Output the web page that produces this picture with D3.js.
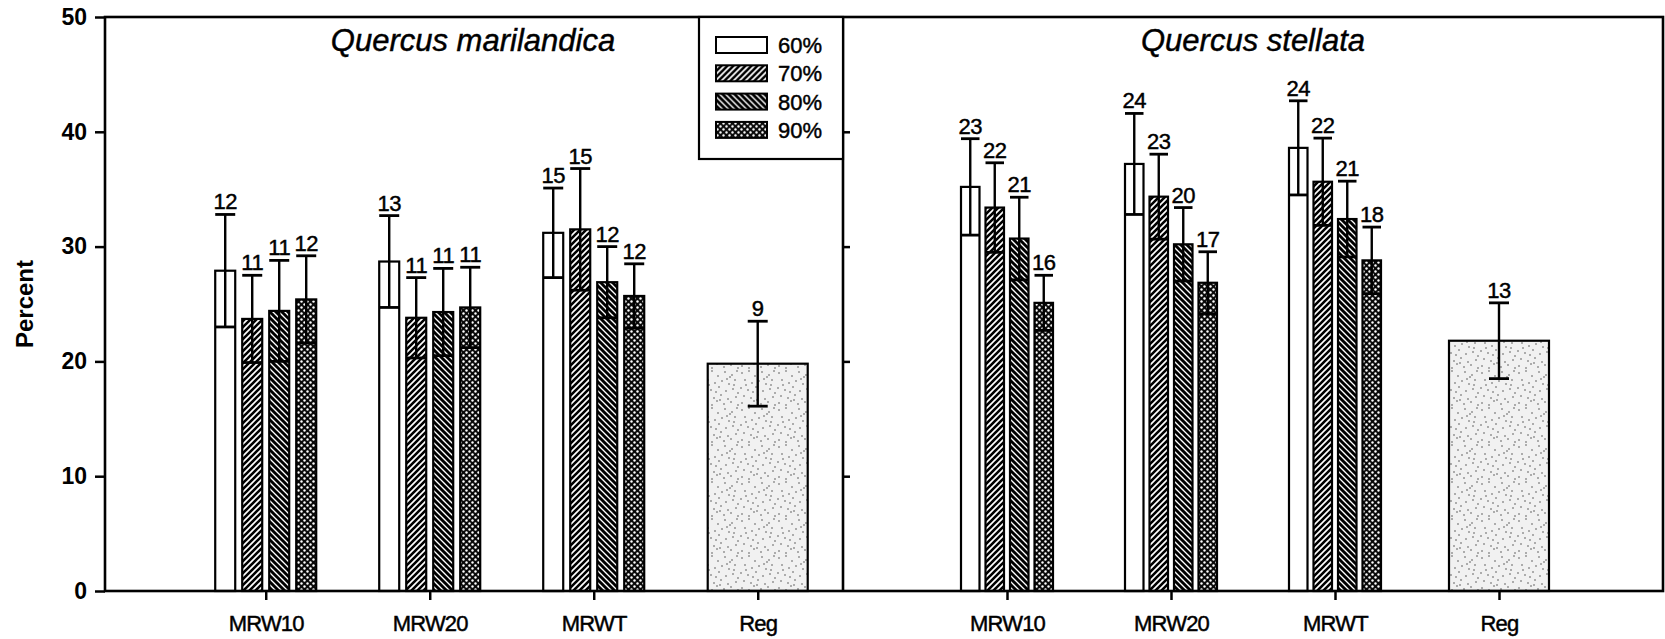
<!DOCTYPE html>
<html>
<head>
<meta charset="utf-8">
<script src="https://cdn.jsdelivr.net/npm/d3@7"></script>
<style>
  body { margin: 0; background: #fff; }
  svg { display: block; font-family: "Liberation Sans", Arial, sans-serif; }
  .ink { stroke: #000; stroke-width: 0.45px; }
</style>
</head>
<body>
<svg id="chart" width="1665" height="639"></svg>
<script>
// ---- data ---------------------------------------------------------------
const groups = ["MRW10", "MRW20", "MRWT"];
const regLabel = "Reg";
const levels = ["60%", "70%", "80%", "90%"];
const yTicks = [0, 10, 20, 30, 40, 50];
const panelTitles = ["Quercus marilandica", "Quercus stellata"];

// rows = groups, columns = levels (60, 70, 80, 90 %)
const marilandicaMean = [[27.9, 23.7, 24.4, 25.4], [28.7, 23.8, 24.3, 24.7], [31.2, 31.5, 26.9, 25.7]];
const marilandicaErr  = [[4.9, 3.8, 4.4, 3.8],     [4.0, 3.5, 3.8, 3.5],     [3.9, 5.3, 3.1, 2.8]];
const marilandicaN    = [[12, 11, 11, 12],         [13, 11, 11, 11],         [15, 15, 12, 12]];
const marilandicaReg  = { mean: 19.8, err: 3.7, n: 9 };

const stellataMean = [[35.2, 33.4, 30.7, 25.1], [37.2, 34.35, 30.2, 26.85], [38.6, 35.65, 32.4, 28.8]];
const stellataErr  = [[4.2, 3.9, 3.6, 2.4],     [4.4, 3.7, 3.2, 2.7],       [4.1, 3.8, 3.3, 2.9]];
const stellataN    = [[23, 22, 21, 16],         [24, 23, 20, 17],           [24, 22, 21, 18]];
const stellataReg  = { mean: 21.8, err: 3.3, n: 13 };

// ---- layout -------------------------------------------------------------
const svg = d3.select("#chart");
const plotTop = 17, plotBottom = 591, plotLeft = 105, plotMid = 843, plotRight = 1663;
const y = d3.scaleLinear().domain([0, 50]).range([plotBottom, plotTop]);

const panels = [
  { x: d3.scaleLinear().domain([0.02, 4.52]).range([plotLeft, plotMid]),
    mean: marilandicaMean, err: marilandicaErr, n: marilandicaN, reg: marilandicaReg,
    barW: 20, pitch: 27, title: panelTitles[0] },
  { x: d3.scaleLinear().domain([0, 5]).range([plotMid, plotRight]),
    mean: stellataMean, err: stellataErr, n: stellataN, reg: stellataReg,
    barW: 18.5, pitch: 24.5, title: panelTitles[1] }
];
const regW = 100;

// ---- fill patterns ------------------------------------------------------
const defs = svg.append("defs");

defs.append("pattern").attr("id", "p60")
  .attr("patternUnits", "userSpaceOnUse").attr("width", 4).attr("height", 4)
  .append("rect").attr("width", 4).attr("height", 4).attr("fill", "#fff");

const p70 = defs.append("pattern").attr("id", "p70")
  .attr("patternUnits", "userSpaceOnUse").attr("width", 6).attr("height", 6);
p70.append("rect").attr("width", 6).attr("height", 6).attr("fill", "#fff");
p70.append("path").attr("d", "M-1.5,1.5 L1.5,-1.5 M0,6 L6,0 M4.5,7.5 L7.5,4.5")
  .attr("stroke", "#000").attr("stroke-width", 2.6);

const p80 = defs.append("pattern").attr("id", "p80")
  .attr("patternUnits", "userSpaceOnUse").attr("width", 6).attr("height", 6);
p80.append("rect").attr("width", 6).attr("height", 6).attr("fill", "#fff");
p80.append("path").attr("d", "M-1.5,4.5 L1.5,7.5 M0,0 L6,6 M4.5,-1.5 L7.5,1.5")
  .attr("stroke", "#000").attr("stroke-width", 2.9);

const p90 = defs.append("pattern").attr("id", "p90")
  .attr("patternUnits", "userSpaceOnUse").attr("width", 6).attr("height", 6);
p90.append("rect").attr("width", 6).attr("height", 6).attr("fill", "#0a0a0a");
p90.append("circle").attr("cx", 1.5).attr("cy", 1.5).attr("r", 1.2).attr("fill", "#fff");
p90.append("circle").attr("cx", 4.5).attr("cy", 4.5).attr("r", 1.2).attr("fill", "#fff");

// light stipple for the regeneration bars
const stippleDots = [
  [2, 3], [9, 1], [15, 6], [22, 2], [29, 5], [34, 1], [5, 10], [12, 13], [19, 11],
  [26, 14], [32, 10], [1, 18], [8, 20], [16, 17], [23, 21], [30, 19], [35, 23],
  [4, 26], [11, 28], [18, 25], [25, 29], [33, 27], [2, 33], [9, 35], [14, 31],
  [21, 34], [28, 32], [35, 35], [6, 15], [27, 7], [17, 30], [31, 15], [13, 22], [24, 9]
];
const pReg = defs.append("pattern").attr("id", "pReg")
  .attr("patternUnits", "userSpaceOnUse").attr("width", 37).attr("height", 37);
pReg.append("rect").attr("width", 37).attr("height", 37).attr("fill", "#f1f1f1");
pReg.selectAll("circle").data(stippleDots).join("circle")
  .attr("cx", d => d[0]).attr("cy", d => d[1]).attr("r", 0.75).attr("fill", "#444");

const fills = ["url(#p60)", "url(#p70)", "url(#p80)", "url(#p90)"];

// ---- axes ---------------------------------------------------------------
const axisFont = g => g.selectAll("text").attr("font-family", "Liberation Sans, Arial, sans-serif");

svg.append("g").attr("transform", `translate(${plotLeft},0)`)
  .call(d3.axisLeft(y).tickValues(yTicks).tickSize(10).tickPadding(8))
  .call(g => g.select(".domain").remove())
  .call(g => g.selectAll("line").attr("stroke", "#000").attr("stroke-width", 2.5))
  .call(g => g.selectAll("text").attr("font-size", 23).attr("font-weight", "bold").attr("fill", "#000"))
  .call(axisFont);

svg.append("g").attr("transform", `translate(${plotMid},0)`)
  .call(d3.axisRight(y).tickValues(yTicks.slice(1, -1)).tickSize(7).tickFormat(""))
  .call(g => g.select(".domain").remove())
  .call(g => g.selectAll("line").attr("stroke", "#000").attr("stroke-width", 2.5));

panels.forEach(p => {
  const labels = groups.concat([regLabel]);
  svg.append("g").attr("transform", `translate(0,${plotBottom})`)
    .call(d3.axisBottom(p.x).tickValues([1, 2, 3, 4]).tickFormat(i => labels[i - 1])
      .tickSize(9).tickPadding(15))
    .call(g => g.select(".domain").remove())
    .call(g => g.selectAll("line").attr("stroke", "#000").attr("stroke-width", 2.5))
    .call(g => g.selectAll("text").attr("font-size", 22).attr("fill", "#000")
      .attr("letter-spacing", "-0.8px").attr("class", "ink"))
    .call(axisFont);
});

svg.append("text")
  .attr("transform", `translate(33,${(plotTop + plotBottom) / 2}) rotate(-90)`)
  .attr("text-anchor", "middle")
  .attr("font-size", 24).attr("font-weight", "bold")
  .text("Percent");

// ---- bars, error bars, sample sizes ---------------------------------------
panels.forEach((p, pi) => {
  const g = svg.append("g");
  const marks = [];
  p.mean.forEach((row, gi) => row.forEach((m, li) => {
    marks.push({
      cx: p.x(gi + 1) + (li - 1.5) * p.pitch, w: p.barW,
      mean: m, err: p.err[gi][li], n: p.n[gi][li], fill: fills[li]
    });
  }));
  marks.push({ cx: p.x(4), w: regW, mean: p.reg.mean, err: p.reg.err, n: p.reg.n,
               fill: "url(#pReg)", capW: 20 });

  g.selectAll("rect.bar").data(marks).join("rect").attr("class", "bar")
    .attr("x", d => d.cx - d.w / 2).attr("width", d => d.w)
    .attr("y", d => y(d.mean)).attr("height", d => y(0) - y(d.mean))
    .attr("fill", d => d.fill).attr("stroke", "#000").attr("stroke-width", 2.2);

  const eb = g.selectAll("g.err").data(marks).join("g").attr("class", "err")
    .attr("stroke", "#000");
  eb.append("line")
    .attr("x1", d => d.cx).attr("x2", d => d.cx)
    .attr("y1", d => y(d.mean + d.err)).attr("y2", d => y(d.mean - d.err))
    .attr("stroke-width", 2.4);
  [1, -1].forEach(s => {
    eb.append("line")
      .attr("x1", d => d.cx - (d.capW || d.w) / 2).attr("x2", d => d.cx + (d.capW || d.w) / 2)
      .attr("y1", d => y(d.mean + s * d.err)).attr("y2", d => y(d.mean + s * d.err))
      .attr("stroke-width", 2.8);
  });

  g.selectAll("text.n").data(marks).join("text").attr("class", "n ink")
    .attr("x", d => d.cx).attr("y", d => y(d.mean + d.err) - 5)
    .attr("text-anchor", "middle").attr("font-size", 22).attr("letter-spacing", "-0.5px")
    .text(d => d.n);

  const [r0, r1] = p.x.range();
  svg.append("text").attr("class", "ink")
    .attr("x", (r0 + r1) / 2 + (pi === 0 ? -1 : 0))
    .attr("y", 51).attr("text-anchor", "middle")
    .attr("font-size", 31).attr("font-style", "italic")
    .text(p.title);
});

// ---- frame ------------------------------------------------------------
svg.append("rect").attr("x", plotLeft).attr("y", plotTop)
  .attr("width", plotRight - plotLeft).attr("height", plotBottom - plotTop)
  .attr("fill", "none").attr("stroke", "#000").attr("stroke-width", 2.6);
svg.append("line").attr("x1", plotMid).attr("x2", plotMid).attr("y1", plotTop).attr("y2", plotBottom)
  .attr("stroke", "#000").attr("stroke-width", 2.6);

// ---- legend -------------------------------------------------------------
const legend = svg.append("g").attr("transform", "translate(699,17)");
legend.append("rect").attr("width", 144).attr("height", 142)
  .attr("fill", "#fff").attr("stroke", "#000").attr("stroke-width", 2.2);
const item = legend.selectAll("g.item").data(levels).join("g").attr("class", "item")
  .attr("transform", (d, i) => `translate(17,${20 + i * 28.3})`);
item.append("rect").attr("width", 51).attr("height", 16)
  .attr("fill", (d, i) => fills[i]).attr("stroke", "#000").attr("stroke-width", 2);
item.append("text").attr("class", "ink").attr("x", 62).attr("y", 16)
  .attr("font-size", 22).text(d => d);
</script>
</body>
</html>
